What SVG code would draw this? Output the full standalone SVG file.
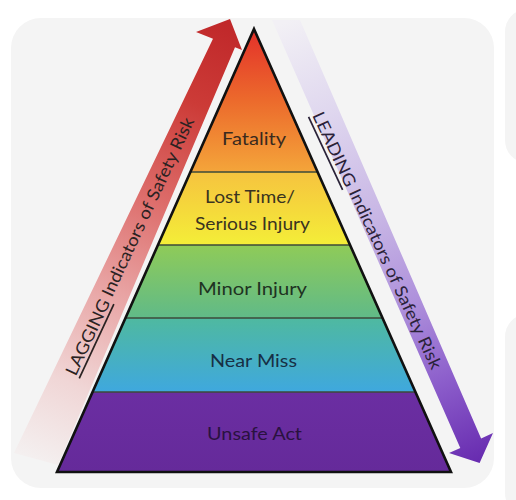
<svg xmlns="http://www.w3.org/2000/svg" width="516" height="500" viewBox="0 0 516 500">
  <defs>
    <linearGradient id="gLag" gradientUnits="userSpaceOnUse" x1="35" y1="462" x2="228" y2="24">
      <stop offset="0" stop-color="#f4f0f0"/>
      <stop offset="0.18" stop-color="#f0d6d6"/>
      <stop offset="0.4" stop-color="#e8a2a2"/>
      <stop offset="0.6" stop-color="#dd6d6b"/>
      <stop offset="0.82" stop-color="#cc3b37"/>
      <stop offset="1" stop-color="#c0282a"/>
    </linearGradient>
    <linearGradient id="gLead" gradientUnits="userSpaceOnUse" x1="286" y1="22" x2="478" y2="460">
      <stop offset="0" stop-color="#f2f0f5"/>
      <stop offset="0.2" stop-color="#e0d8ef"/>
      <stop offset="0.45" stop-color="#c8b6e5"/>
      <stop offset="0.65" stop-color="#ad8fdb"/>
      <stop offset="0.82" stop-color="#8c5ecb"/>
      <stop offset="1" stop-color="#682cb0"/>
    </linearGradient>
    <linearGradient id="g1" x1="0" y1="0" x2="0" y2="1">
      <stop offset="0" stop-color="#e3302a"/>
      <stop offset="0.5" stop-color="#ec6a2c"/>
      <stop offset="1" stop-color="#f4a53a"/>
    </linearGradient>
    <linearGradient id="g2" x1="0" y1="0" x2="0" y2="1">
      <stop offset="0" stop-color="#f6c33f"/>
      <stop offset="1" stop-color="#f4ee38"/>
    </linearGradient>
    <linearGradient id="g3" x1="0" y1="0" x2="0" y2="1">
      <stop offset="0" stop-color="#8fcb58"/>
      <stop offset="1" stop-color="#60ba88"/>
    </linearGradient>
    <linearGradient id="g4" x1="0" y1="0" x2="0" y2="1">
      <stop offset="0" stop-color="#4fb9a0"/>
      <stop offset="1" stop-color="#3fa8de"/>
    </linearGradient>
    <linearGradient id="g5" x1="0" y1="0" x2="0" y2="1">
      <stop offset="0" stop-color="#6b2ea2"/>
      <stop offset="1" stop-color="#652a9a"/>
    </linearGradient>
    <clipPath id="tri">
      <polygon points="254,29 451,472 57,472"/>
    </clipPath>
  </defs>
  <style>
    .lbl { font-family: Lato, "Open Sans", "Liberation Sans", sans-serif; font-size: 18px; text-anchor: middle; }
    .arr { font-family: Lato, "Open Sans", "Liberation Sans", sans-serif; font-size: 17px; text-anchor: middle; dominant-baseline: central; }
    .sep { stroke: #3d4a3a; stroke-width: 1.3; }
  </style>

  <rect x="0" y="0" width="516" height="500" fill="#ffffff"/>
  <rect x="11" y="18" width="483" height="470" rx="30" fill="#f4f4f4"/>
  <rect x="505" y="10" width="40" height="152" rx="22" fill="#f4f4f4"/>
  <rect x="505" y="315" width="40" height="200" rx="22" fill="#f4f4f4"/>

  <g id="connectors">
    <g id="lagging-arrow">
      <polygon points="230,19 242,50 235,47.3 58,465 14,453 213,38.7 196,32" fill="url(#gLag)"/>
      <g transform="translate(129,246) rotate(-65)">
        <text class="arr" x="0" y="0" fill="#2a2222" textLength="282" lengthAdjust="spacingAndGlyphs"><tspan text-decoration="underline">LAGGING</tspan> Indicators of Safety Risk</text>
      </g>
    </g>
    <g id="leading-arrow">
      <polygon points="272,20 300,20 481.1,438.4 493,433 479.6,463 449,453 460.3,447.9" fill="url(#gLead)"/>
      <g transform="translate(378,240) rotate(65)">
        <text class="arr" x="0" y="0" fill="#2a2238" textLength="282" lengthAdjust="spacingAndGlyphs"><tspan text-decoration="underline">LEADING</tspan> Indicators of Safety Risk</text>
      </g>
    </g>
  </g>

  <g id="pyramid">
    <g clip-path="url(#tri)">
      <g id="fatality"><rect x="50" y="29" width="410" height="143" fill="url(#g1)"/></g>
      <g id="lost-time"><rect x="50" y="172" width="410" height="73" fill="url(#g2)"/></g>
      <g id="minor-injury"><rect x="50" y="245" width="410" height="73" fill="url(#g3)"/></g>
      <g id="near-miss"><rect x="50" y="318" width="410" height="74" fill="url(#g4)"/></g>
      <g id="unsafe-act"><rect x="50" y="392" width="410" height="80" fill="url(#g5)"/></g>
      <line class="sep" x1="50" y1="172" x2="460" y2="172"/>
      <line class="sep" x1="50" y1="245" x2="460" y2="245" stroke="#5a8a3a"/>
      <line class="sep" x1="50" y1="318" x2="460" y2="318"/>
      <line class="sep" x1="50" y1="392" x2="460" y2="392" stroke="#2a2a5a"/>
    </g>
    <polygon points="254,29 451,472 57,472" fill="none" stroke="#111111" stroke-width="2.6" stroke-linejoin="miter"/>
  </g>

  <g id="labels">
    <text class="lbl" x="254" y="145" fill="#3a2a1e" textLength="64" lengthAdjust="spacingAndGlyphs">Fatality</text>
    <text class="lbl" x="250" y="203" fill="#3a3420" textLength="90" lengthAdjust="spacingAndGlyphs">Lost Time/</text>
    <text class="lbl" x="252.5" y="230" fill="#3a3420" textLength="115" lengthAdjust="spacingAndGlyphs">Serious Injury</text>
    <text class="lbl" x="252.5" y="295" fill="#1f3322" textLength="109" lengthAdjust="spacingAndGlyphs">Minor Injury</text>
    <text class="lbl" x="253.5" y="367" fill="#172f45" textLength="87" lengthAdjust="spacingAndGlyphs">Near Miss</text>
    <text class="lbl" x="254.5" y="440" fill="#2a1240" textLength="95" lengthAdjust="spacingAndGlyphs">Unsafe Act</text>
  </g>
</svg>
